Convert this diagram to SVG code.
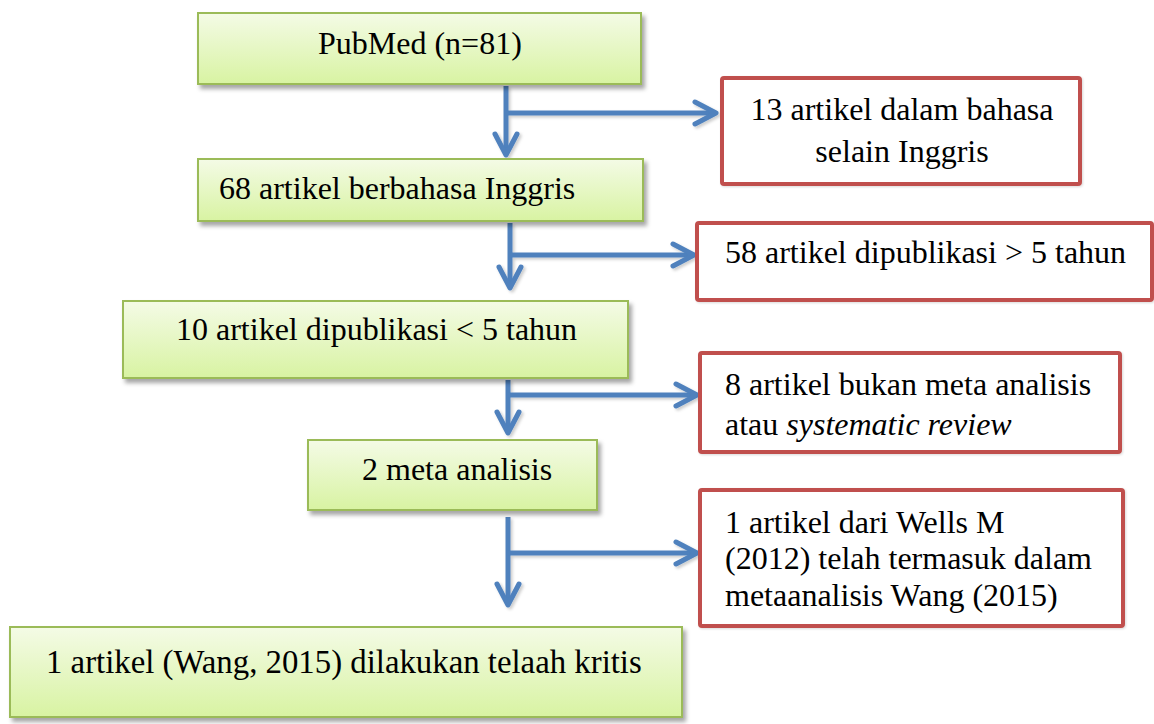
<svg xmlns="http://www.w3.org/2000/svg" width="1154" height="724" viewBox="0 0 1154 724" font-family="Liberation Serif, Times New Roman, Tinos, DejaVu Serif, serif">
  <style>
    .g { fill: url(#gg); stroke: #9bbb59; stroke-width: 2; filter: url(#sh); }
    .r { fill: #ffffff; stroke: #c0504d; stroke-width: 4; filter: url(#rsh); }
    .t { font-size: 32px; fill: #000; }
    .c { fill: none; stroke: #4f81bd; stroke-width: 5; marker-end: url(#ah); }
  </style>
  <defs>
    <linearGradient id="gg" x1="0" y1="0" x2="0" y2="1">
      <stop offset="0" stop-color="#f4fbe6"/>
      <stop offset="1" stop-color="#d8f3a2"/>
    </linearGradient>
    <filter id="sh" x="-5%" y="-10%" width="115%" height="130%">
      <feDropShadow dx="3" dy="4" stdDeviation="2" flood-color="#000" flood-opacity="0.35"/>
    </filter>
    <filter id="rsh" x="-5%" y="-10%" width="115%" height="130%">
      <feDropShadow dx="1" dy="1" stdDeviation="1" flood-color="#000" flood-opacity="0.15"/>
    </filter>
    <filter id="ash" filterUnits="userSpaceOnUse" x="0" y="0" width="1154" height="724">
      <feDropShadow dx="2" dy="2" stdDeviation="1.5" flood-color="#000" flood-opacity="0.2"/>
    </filter>
    <marker id="ah" viewBox="-26 -14 30 28" markerWidth="30" markerHeight="28" refX="0" refY="0" orient="auto" markerUnits="userSpaceOnUse">
      <path d="M-21,-11 L0,0 L-21,11" fill="none" stroke="#4f81bd" stroke-width="5" stroke-linejoin="round" stroke-linecap="round"/>
    </marker>
  </defs>

  <g id="connectors" filter="url(#ash)">
    <path class="c" d="M506,86 V155"/>
    <path class="c" d="M506,113 H716"/>
    <path class="c" d="M510,223 V288"/>
    <path class="c" d="M510,255 H694"/>
    <path class="c" d="M508,380 V433"/>
    <path class="c" d="M508,395 H697"/>
    <path class="c" d="M508,517 V605"/>
    <path class="c" d="M508,553 H697"/>
  </g>

  <g id="node-pubmed">
    <rect class="g" x="198" y="13" width="443" height="71"/>
    <text class="t" x="318" y="54">PubMed (n=81)</text>
  </g>
  <g id="node-68">
    <rect class="g" x="198" y="159" width="445" height="62"/>
    <text class="t" x="219" y="199">68 artikel berbahasa Inggris</text>
  </g>
  <g id="node-10">
    <rect class="g" x="123" y="301" width="505" height="77"/>
    <text class="t" x="176" y="340">10 artikel dipublikasi &lt; 5 tahun</text>
  </g>
  <g id="node-2">
    <rect class="g" x="308" y="440" width="289" height="70"/>
    <text class="t" x="362" y="480">2 meta analisis</text>
  </g>
  <g id="node-1">
    <rect class="g" x="10" y="627" width="672" height="90"/>
    <text class="t" x="46" y="673" style="font-size:32.8px">1 artikel (Wang, 2015) dilakukan telaah kritis</text>
  </g>

  <g id="excl-13">
    <rect class="r" x="722" y="78" width="358" height="106" rx="2"/>
    <text class="t" x="902" y="120" text-anchor="middle">13 artikel dalam bahasa</text>
    <text class="t" x="902" y="162" text-anchor="middle">selain Inggris</text>
  </g>
  <g id="excl-58">
    <rect class="r" x="697" y="223" width="455" height="77" rx="2"/>
    <text class="t" x="725" y="263">58 artikel dipublikasi &gt; 5 tahun</text>
  </g>
  <g id="excl-8">
    <rect class="r" x="700" y="353" width="420" height="99" rx="2"/>
    <text class="t" x="725" y="395">8 artikel bukan meta analisis</text>
    <text class="t" x="725" y="435">atau <tspan font-style="italic">systematic review</tspan></text>
  </g>
  <g id="excl-wells">
    <rect class="r" x="700" y="490" width="423" height="136" rx="2"/>
    <text class="t" x="725" y="533">1 artikel dari Wells M</text>
    <text class="t" x="725" y="569">(2012) telah termasuk dalam</text>
    <text class="t" x="725" y="606">metaanalisis Wang (2015)</text>
  </g>
</svg>
